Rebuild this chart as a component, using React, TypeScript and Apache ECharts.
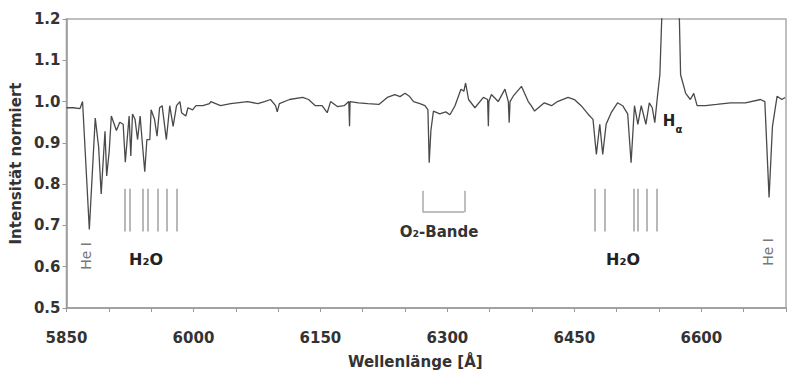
import React, { useEffect, useRef } from "react";
import * as echarts from "echarts";

// Spectrum: wavelength [Å] and normalised intensity
const wavelength = [
  5850, 5858, 5866, 5869, 5877, 5884, 5888, 5891, 5895.5, 5897.5, 5900.5, 5903, 5909, 5913, 5917,
  5919.5, 5924, 5926, 5928, 5931, 5934, 5937, 5940, 5942.5, 5945, 5948.5, 5950, 5954, 5957, 5960,
  5963, 5968, 5972, 5976, 5980, 5984, 5986, 5991, 5993.5, 5999, 6003, 6011, 6019, 6020.5, 6032,
  6044, 6064, 6076, 6084, 6091, 6097, 6099, 6101.5, 6113.5, 6129, 6136, 6144, 6152, 6158, 6162,
  6170, 6178, 6183.5, 6184.4, 6185, 6195, 6206, 6219, 6229, 6238, 6244, 6250, 6255, 6260, 6267.5,
  6273.5, 6277, 6278.5, 6280.5, 6283.5, 6291, 6298, 6303, 6309, 6316, 6319.5, 6321.5, 6325, 6332.5,
  6342.5, 6347.5, 6348.4, 6349, 6352, 6360, 6368, 6372, 6373, 6374, 6377.7, 6387.5, 6395.5, 6399,
  6403, 6414.5, 6423, 6430, 6442.5, 6450, 6458, 6466, 6472, 6476, 6480, 6483.5, 6487.5, 6493.5,
  6501, 6507, 6513, 6517, 6521, 6525, 6529, 6534.5, 6538.5, 6542, 6545, 6548, 6551, 6554, 6564,
  6573.5, 6575.5, 6581.5, 6587, 6591, 6595, 6605, 6618, 6634.5, 6652, 6670, 6675, 6680, 6684,
  6689.5, 6695, 6699,
];
const intensity = [
  0.985, 0.985, 0.983, 1.0, 0.69, 0.96, 0.89, 0.776, 0.928, 0.82, 0.88, 0.965, 0.93, 0.95, 0.945,
  0.853, 0.965, 0.868, 0.97, 0.957, 0.908, 0.965, 0.89, 0.83, 0.908, 0.908, 0.98, 0.957, 0.916, 0.985,
  0.99, 0.908, 0.99, 0.94, 0.99, 1.0, 0.973, 0.965, 0.985, 0.98, 0.99, 0.99, 0.995, 1.0, 0.99,
  0.995, 1.0, 0.995, 1.0, 1.005, 0.99, 0.975, 0.995, 1.005, 1.01, 1.005, 0.99, 0.99, 0.973, 1.0,
  0.988, 0.99, 1.0, 0.94, 1.0, 0.997, 0.995, 0.993, 1.01, 1.017, 1.012, 1.02, 1.013, 1.0, 0.995,
  0.99, 0.98, 0.852, 0.93, 0.977, 0.97, 0.975, 0.968, 0.99, 1.03, 1.025, 1.045, 1.005, 0.985,
  1.01, 1.005, 0.94, 1.0, 1.017, 1.0, 1.03, 1.0, 0.949, 1.0, 1.013, 1.037, 1.0, 0.99,
  0.977, 0.997, 0.99, 1.0, 1.01, 1.005, 0.99, 0.97, 0.957, 0.872, 0.945, 0.872, 0.945, 0.973,
  0.997, 0.99, 0.97, 0.852, 0.99, 0.945, 0.99, 0.945, 0.997, 0.985, 0.949, 1.01, 1.065, 1.25, 1.45,
  1.25, 1.065, 1.02, 1.005, 1.02, 0.99, 0.99, 0.993, 0.997, 0.997, 1.005, 1.0, 0.768, 0.94,
  1.013, 1.005, 1.01,
];

// Telluric line markers
const h2oLinesLeft = [5919, 5925, 5940.5, 5946.5, 5958, 5969, 5980];
const h2oLinesRight = [6474.5, 6485.5, 6520, 6525, 6535.5, 6547.5];
const h2oMarkerRange = [0.685, 0.789];
const o2Band = [6271, 6320];
const o2BracketRange = [0.732, 0.784];

// Axis
const xMin = 5850;
const xMax = 6700;
const xTickStep = 50;
const xLabelStep = 150;
const yMin = 0.5;
const yMax = 1.2;
const yStep = 0.1;

const FONT = "DejaVu Sans";

export default function App() {
  const ref = useRef<HTMLDivElement>(null);

  useEffect(() => {
    if (!ref.current) return;
    const chart = echarts.init(ref.current, undefined, { renderer: "svg" });

    const data = wavelength.map((w, i) => [w, intensity[i]]);
    const markerLines: any[] = [];
    [...h2oLinesLeft, ...h2oLinesRight].forEach((w) => {
      markerLines.push([{ coord: [w, h2oMarkerRange[0]] }, { coord: [w, h2oMarkerRange[1]] }]);
    });
    const bracketStyle = { color: "#aaa", width: 1.5 };
    markerLines.push([
      { coord: [o2Band[0], o2BracketRange[1]], lineStyle: bracketStyle },
      { coord: [o2Band[0], o2BracketRange[0]] },
    ]);
    markerLines.push([
      { coord: [o2Band[0], o2BracketRange[0]], lineStyle: bracketStyle },
      { coord: [o2Band[1], o2BracketRange[0]] },
    ]);
    markerLines.push([
      { coord: [o2Band[1], o2BracketRange[0]], lineStyle: bracketStyle },
      { coord: [o2Band[1], o2BracketRange[1]] },
    ]);

    const txt = (
      text: string,
      x: number,
      y: number,
      size: number,
      color: string,
      weight: string,
      rotation = 0
    ) => ({
      type: "text",
      x,
      y,
      rotation,
      z: 100,
      style: {
        text,
        fill: color,
        font: `${weight} ${size}px "${FONT}"`,
        align: "center",
        verticalAlign: "middle",
        textAlign: "center",
        textVerticalAlign: "middle",
      },
    });

    chart.setOption({
      animation: false,
      backgroundColor: "#fff",
      grid: {
        left: 63,
        right: 14,
        top: 19,
        bottom: 76,
        show: true,
        borderColor: "#aaa",
        borderWidth: 1.5,
        backgroundColor: "transparent",
      },
      xAxis: {
        type: "value",
        min: xMin,
        max: xMax,
        interval: xTickStep,
        name: "Wellenlänge [Å]",
        nameLocation: "middle",
        nameGap: 46,
        nameTextStyle: {
          fontFamily: FONT,
          fontSize: 15,
          fontWeight: "bold",
          color: "#333",
          padding: [0, 22, 0, 0],
        },
        axisLine: { show: true, lineStyle: { color: "#999", width: 1.5 } },
        axisTick: { show: true, length: 4, lineStyle: { color: "#999" } },
        splitLine: { show: false },
        axisLabel: {
          margin: 22,
          fontFamily: FONT,
          fontSize: 15,
          fontWeight: "bold",
          color: "#333",
          formatter: (v: number) => (Math.round(v) % xLabelStep === 0 ? String(Math.round(v)) : ""),
        },
      },
      yAxis: {
        type: "value",
        min: yMin,
        max: yMax,
        interval: yStep,
        name: "Intensität normiert",
        nameLocation: "middle",
        nameGap: 40,
        nameTextStyle: {
          fontFamily: FONT,
          fontSize: 15,
          fontWeight: "bold",
          color: "#333",
        },
        axisLine: { show: true, lineStyle: { color: "#999", width: 1.5 } },
        axisTick: { show: true, length: 4, lineStyle: { color: "#999" } },
        splitLine: { show: false },
        axisLabel: {
          margin: 6,
          fontFamily: FONT,
          fontSize: 15,
          fontWeight: "bold",
          color: "#333",
          formatter: (v: number) => v.toFixed(1),
        },
      },
      series: [
        {
          type: "line",
          data,
          showSymbol: false,
          symbol: "none",
          clip: true,
          lineStyle: { color: "#4a4a4a", width: 1.3 },
          markLine: {
            silent: true,
            symbol: ["none", "none"],
            label: { show: false },
            lineStyle: { color: "#a0a0a0", width: 1.5, type: "solid" },
            data: markerLines,
          },
        },
      ],
      graphic: [
        txt("He I", 86, 256, 14, "#777", "normal", Math.PI / 2),
        txt("He I", 768, 252, 14, "#777", "normal", Math.PI / 2),
        txt("H₂O", 146, 259, 16, "#222", "bold"),
        txt("H₂O", 623, 259, 16, "#222", "bold"),
        txt("O₂-Bande", 439, 232, 15, "#333", "bold"),
        txt("H", 669, 121, 15, "#222", "bold"),
        txt("α", 679, 129, 10, "#222", "bold"),
      ],
    });

    return () => chart.dispose();
  }, []);

  return (
    <div
      ref={ref}
      style={{ position: "fixed", left: 0, top: 0, width: 800, height: 384, background: "#fff" }}
    />
  );
}
